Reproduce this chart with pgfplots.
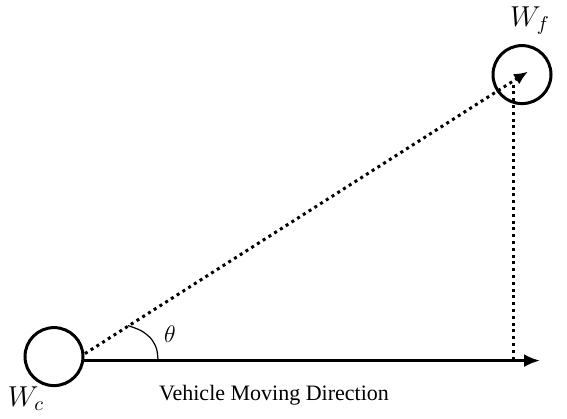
\documentclass[border=0pt]{standalone}
\usepackage{fontspec}
\setmainfont{Liberation Serif}
\usepackage{pgfplots}
\pgfplotsset{compat=1.18}
\usetikzlibrary{arrows.meta}
\begin{document}
\begin{tikzpicture}
\begin{axis}[
  x=0.5pt, y=0.5pt,
  xmin=0, xmax=567, ymin=0, ymax=415,
  scale only axis, hide axis, clip=false,
]
% invisible frame
\addplot[draw=none, forget plot] coordinates {(0,0) (567,415)};
% horizontal arrow (vehicle moving direction)
\addplot[black, line width=1.4pt, -{Latex[length=8pt,width=6.5pt]}] coordinates {(83,58) (540,58)};
% dotted diagonal to W_f
\addplot[black, line width=1.5pt, dash pattern=on 1.5pt off 1.9pt, -{Latex[length=7pt,width=6pt]}] coordinates {(85,65) (528,347)};
% dotted vertical
\addplot[black, line width=1.5pt, dash pattern=on 1.5pt off 1.9pt] coordinates {(513,59) (513,335)};
% angle arc
\addplot[black, line width=0.6pt, smooth] coordinates {(158,59) (156.5,70) (151,80) (141,88) (128,93)};
% wheels
\addplot[only marks, mark=o, mark size=14.5pt, mark options={line width=1.5pt, black}] coordinates {(54,62) (522,344)};
\node at (axis cs:170,84) {\fontsize{13}{15}\selectfont$\theta$};
\node at (axis cs:26,20) {\fontsize{14}{16}\selectfont$W_c$};
\node at (axis cs:530,398) {\fontsize{14}{16}\selectfont$W_f$};
\node at (axis cs:274,23) {\fontsize{11}{13}\selectfont Vehicle Moving Direction};
\end{axis}
\end{tikzpicture}
\end{document}
